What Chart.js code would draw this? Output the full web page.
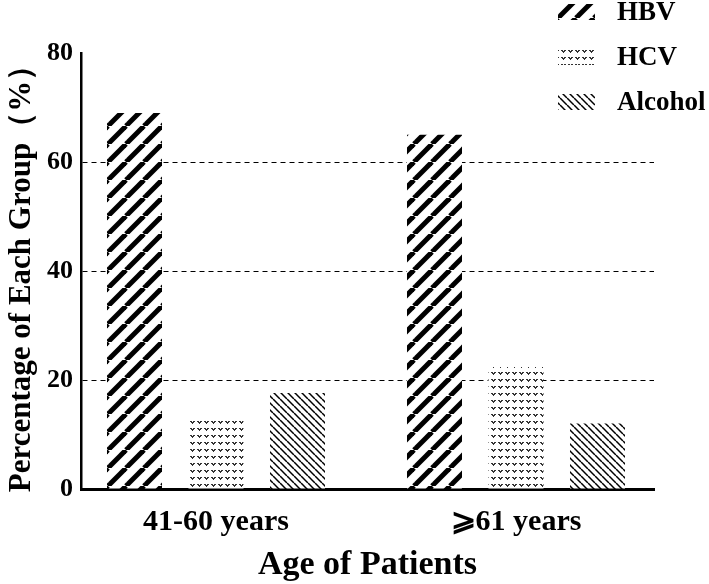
<!DOCTYPE html>
<html>
<head>
  <meta charset="UTF-8">
  <title>Age of Patients</title>
  <script src="https://cdn.jsdelivr.net/npm/chart.js"></script>
  <style>
    body { margin: 0; background: #fff; }
    #wrap { width: 709px; height: 584px; }
  </style>
</head>
<body>
  <div id="wrap"><canvas id="chart" width="709" height="584"></canvas></div>
  <script>
    // data
    const categories = ['41-60 years', '\u2A7E61 years'];
    const seriesNames = ['HBV', 'HCV', 'Alcohol'];
    const hbv = [69, 65];
    const hcv = [13, 22.4];
    const alcohol = [17.6, 12];
    const yTicks = [0, 20, 40, 60, 80];

    const serif = '"Liberation Serif", "Times New Roman", "DejaVu Serif", serif';

    // fill patterns
    function makeTile(size, draw) {
      const c = document.createElement('canvas');
      c.width = size; c.height = size;
      const g = c.getContext('2d');
      g.fillStyle = '#fff';
      g.fillRect(0, 0, size, size);
      draw(g, size);
      return document.createElement('canvas').getContext('2d').createPattern(c, 'repeat');
    }

    const thickStripes = makeTile(18, (g, s) => {
      g.strokeStyle = '#000';
      g.lineWidth = 5;
      for (const o of [-s, 0, s]) {
        g.beginPath();
        g.moveTo(o, s);
        g.lineTo(o + s, 0);
        g.stroke();
      }
    });

    const dots = makeTile(7, (g) => {
      g.fillStyle = '#333';
      g.fillRect(1, 1, 2, 1);
      g.fillRect(4, 1, 2, 1);
      g.fillRect(2, 2, 3, 1);
      g.fillRect(3, 3, 1, 1);
    });

    const thinStripes = makeTile(7, (g, s) => {
      g.strokeStyle = '#000';
      g.lineWidth = 1.5;
      for (const o of [-s, 0, s]) {
        g.beginPath();
        g.moveTo(o, 0);
        g.lineTo(o + s, s);
        g.stroke();
      }
    });

    const fills = [thickStripes, dots, thinStripes];
    const values = [hbv, hcv, alcohol];

    // legend drawn in the top right corner, from the datasets
    const cornerLegend = {
      id: 'cornerLegend',
      afterDraw(chart) {
        const ctx = chart.ctx;
        ctx.save();
        chart.data.datasets.forEach((ds, i) => {
          const cy = 12 + i * 45;
          ctx.fillStyle = ds.backgroundColor;
          ctx.fillRect(558, cy - 8, 37, 16);
          ctx.fillStyle = '#000';
          ctx.font = 'bold 27px ' + serif;
          ctx.textBaseline = 'middle';
          ctx.textAlign = 'left';
          ctx.fillText(ds.label, 617, cy + 1);
        });
        ctx.restore();
      }
    };

    new Chart(document.getElementById('chart').getContext('2d'), {
      type: 'bar',
      data: {
        datasets: seriesNames.map((name, k) => ({
          label: name,
          data: values[k].map((v, i) => ({ x: i, y: v })),
          backgroundColor: fills[k],
          borderWidth: 0,
          categoryPercentage: 0.815,
          barPercentage: 0.675
        }))
      },
      options: {
        responsive: false,
        animation: false,
        layout: { padding: { top: 53, right: 55, bottom: 0, left: 0 } },
        plugins: {
          legend: { display: false },
          tooltip: { enabled: false }
        },
        scales: {
          x: {
            type: 'linear',
            offset: false,
            min: -0.45,
            max: 1.46,
            z: 1,
            afterDataLimits: (s) => { s.min = -0.45; s.max = 1.46; },
            grid: { display: false, drawTicks: false, offset: false },
            border: { display: true, color: '#000', width: 3 },
            afterBuildTicks: (s) => { s.ticks = categories.map((_, i) => ({ value: i })); },
            afterFit: (s) => { s.height = 95; },
            ticks: {
              padding: 15,
              color: '#000',
              font: { family: serif, size: 30, weight: 'bold' },
              callback: (v) => categories[v]
            },
            title: {
              display: true,
              text: 'Age of Patients',
              color: '#000',
              padding: { top: 0, bottom: 0 },
              font: { family: serif, size: 34, weight: 'bold', lineHeight: 1.1 }
            }
          },
          y: {
            min: 0,
            max: 80,
            afterBuildTicks: (s) => { s.ticks = yTicks.map(v => ({ value: v })); },
            afterFit: (s) => { s.width = 81; },
            grid: {
              drawTicks: false,
              lineWidth: 1,
              color: (c) => (c.tick && (c.tick.value === 0 || c.tick.value === 80)) ? 'rgba(0,0,0,0)' : '#000'
            },
            border: { display: true, color: '#000', width: 2.5, dash: [5, 4] },
            ticks: {
              padding: 8,
              color: '#000',
              font: { family: serif, size: 26, weight: 'bold' }
            },
            title: {
              display: true,
              text: 'Percentage of Each Group\uff08%\uff09',
              color: '#000',
              padding: { top: 3, bottom: 0 },
              font: { family: serif, size: 31, weight: 'bold', lineHeight: 1.2 }
            }
          }
        }
      },
      plugins: [cornerLegend]
    });
  </script>
</body>
</html>
